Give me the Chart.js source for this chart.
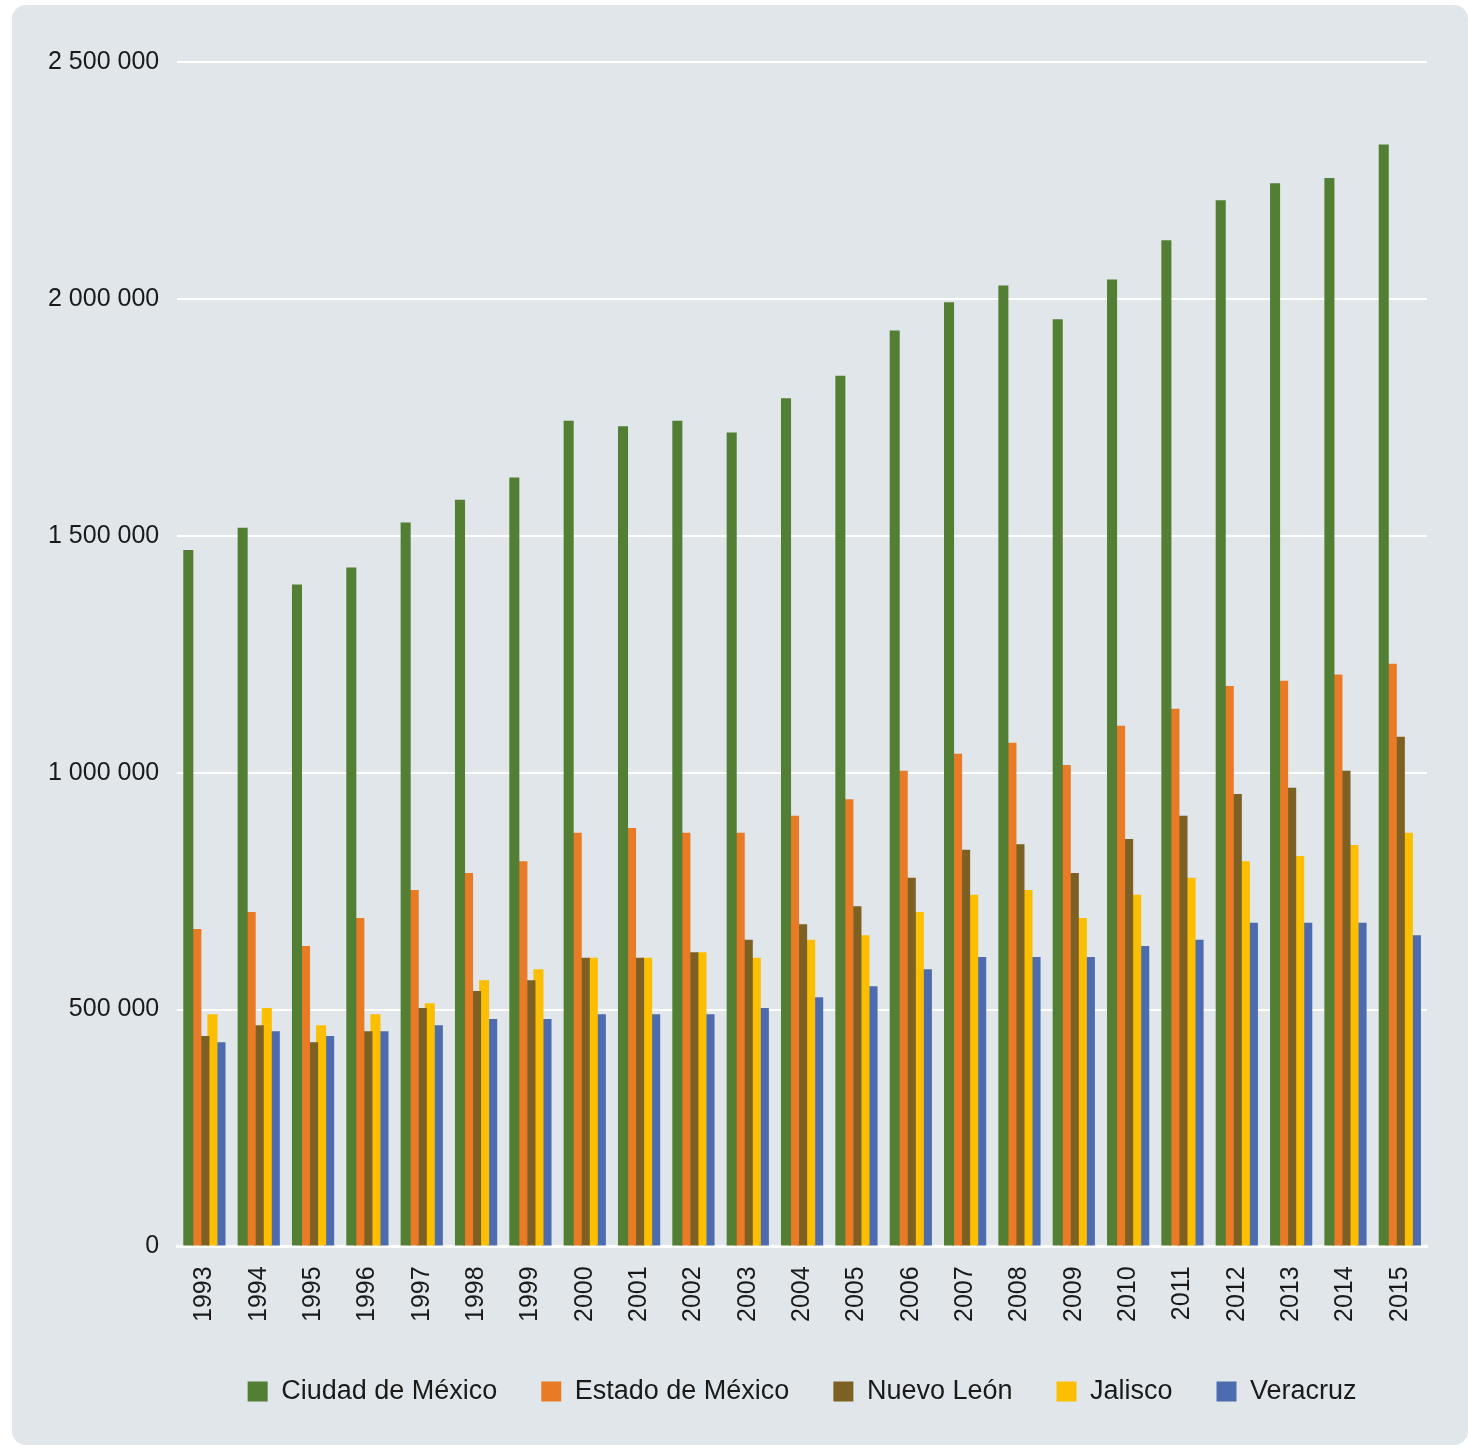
<!DOCTYPE html>
<html>
<head>
<meta charset="utf-8">
<script src="https://cdn.jsdelivr.net/npm/chart.js@4/dist/chart.umd.min.js"></script>
<style>
  body { margin: 0; background: #ffffff; }
  #panel {
    position: absolute; left: 12px; top: 5px;
    width: 1456px; height: 1440px;
    background: #e0e6ea; border-radius: 14px; overflow: hidden;
  }
</style>
</head>
<body>
<div id="panel"><canvas id="chart"></canvas></div>
<script>
// Years on the x axis
const years = ["1993","1994","1995","1996","1997","1998","1999","2000","2001","2002","2003",
  "2004","2005","2006","2007","2008","2009","2010","2011","2012","2013","2014","2015"];

// Series values
const ciudadDeMexico = [1470000,1517000,1397000,1433000,1528000,1576000,1623000,1743000,1731000,1743000,1718000,
  1790000,1838000,1933000,1993000,2028000,1957000,2041000,2124000,2208000,2244000,2255000,2326000];
const estadoDeMexico = [670000,706000,634000,693000,752000,788000,813000,873000,883000,873000,873000,
  909000,944000,1004000,1040000,1063000,1016000,1099000,1135000,1183000,1194000,1207000,1230000];
const nuevoLeon = [444000,467000,431000,454000,503000,539000,562000,609000,609000,621000,647000,
  680000,718000,778000,837000,849000,788000,860000,909000,955000,968000,1004000,1076000];
const jalisco = [490000,503000,467000,490000,513000,562000,585000,609000,609000,621000,609000,
  647000,657000,706000,742000,752000,693000,742000,778000,813000,824000,847000,873000];
const veracruz = [431000,454000,444000,454000,467000,480000,480000,490000,490000,490000,503000,
  526000,549000,585000,611000,611000,611000,634000,647000,683000,683000,683000,657000];

// Y axis ticks
const yTicks = [0, 500000, 1000000, 1500000, 2000000, 2500000];

const seriesNames = ["Ciudad de México", "Estado de México", "Nuevo León", "Jalisco", "Veracruz"];
const seriesColors = ["#527f33", "#e97a26", "#7d6023", "#fbbe00", "#4d6cb0"];
const seriesData = [ciudadDeMexico, estadoDeMexico, nuevoLeon, jalisco, veracruz];

const fontFamily = "'Liberation Sans', Arial, sans-serif";

function formatThousands(v) {
  return String(v).replace(/\B(?=(\d{3})+(?!\d))/g, " ");
}

const ctx = document.getElementById("chart").getContext("2d");

new Chart(ctx, {
  type: "bar",
  data: {
    labels: years,
    datasets: seriesNames.map((name, i) => ({
      label: name,
      data: seriesData[i],
      backgroundColor: seriesColors[i],
      borderWidth: 0,
      categoryPercentage: 0.74,
      barPercentage: 1.25,
    })),
  },
  options: {
    responsive: true,
    maintainAspectRatio: false,
    animation: false,
    layout: { padding: { left: 18, right: 41, top: 57, bottom: 30 } },
    plugins: {
      tooltip: { enabled: false },
      legend: {
        position: "bottom",
        fullSize: false,
        labels: {
          boxWidth: 20,
          boxHeight: 20,
          padding: 44,
          color: "#1a1a1a",
          font: { family: fontFamily, size: 27 },
        },
      },
    },
    scales: {
      x: {
        grid: { display: false },
        border: { color: "#ffffff", width: 3 },
        ticks: {
          minRotation: 90,
          maxRotation: 90,
          padding: 12,
          color: "#1a1a1a",
          font: { family: fontFamily, size: 25 },
        },
      },
      y: {
        min: 0,
        max: 2500000,
        afterBuildTicks: (axis) => {
          axis.ticks = yTicks.map((v) => ({ value: v }));
        },
        grid: { color: "#ffffff", lineWidth: 2, drawTicks: false },
        border: { display: false },
        ticks: {
          padding: 18,
          color: "#1a1a1a",
          font: { family: fontFamily, size: 25 },
          callback: (v) => formatThousands(v),
        },
      },
    },
  },
});
</script>
</body>
</html>
